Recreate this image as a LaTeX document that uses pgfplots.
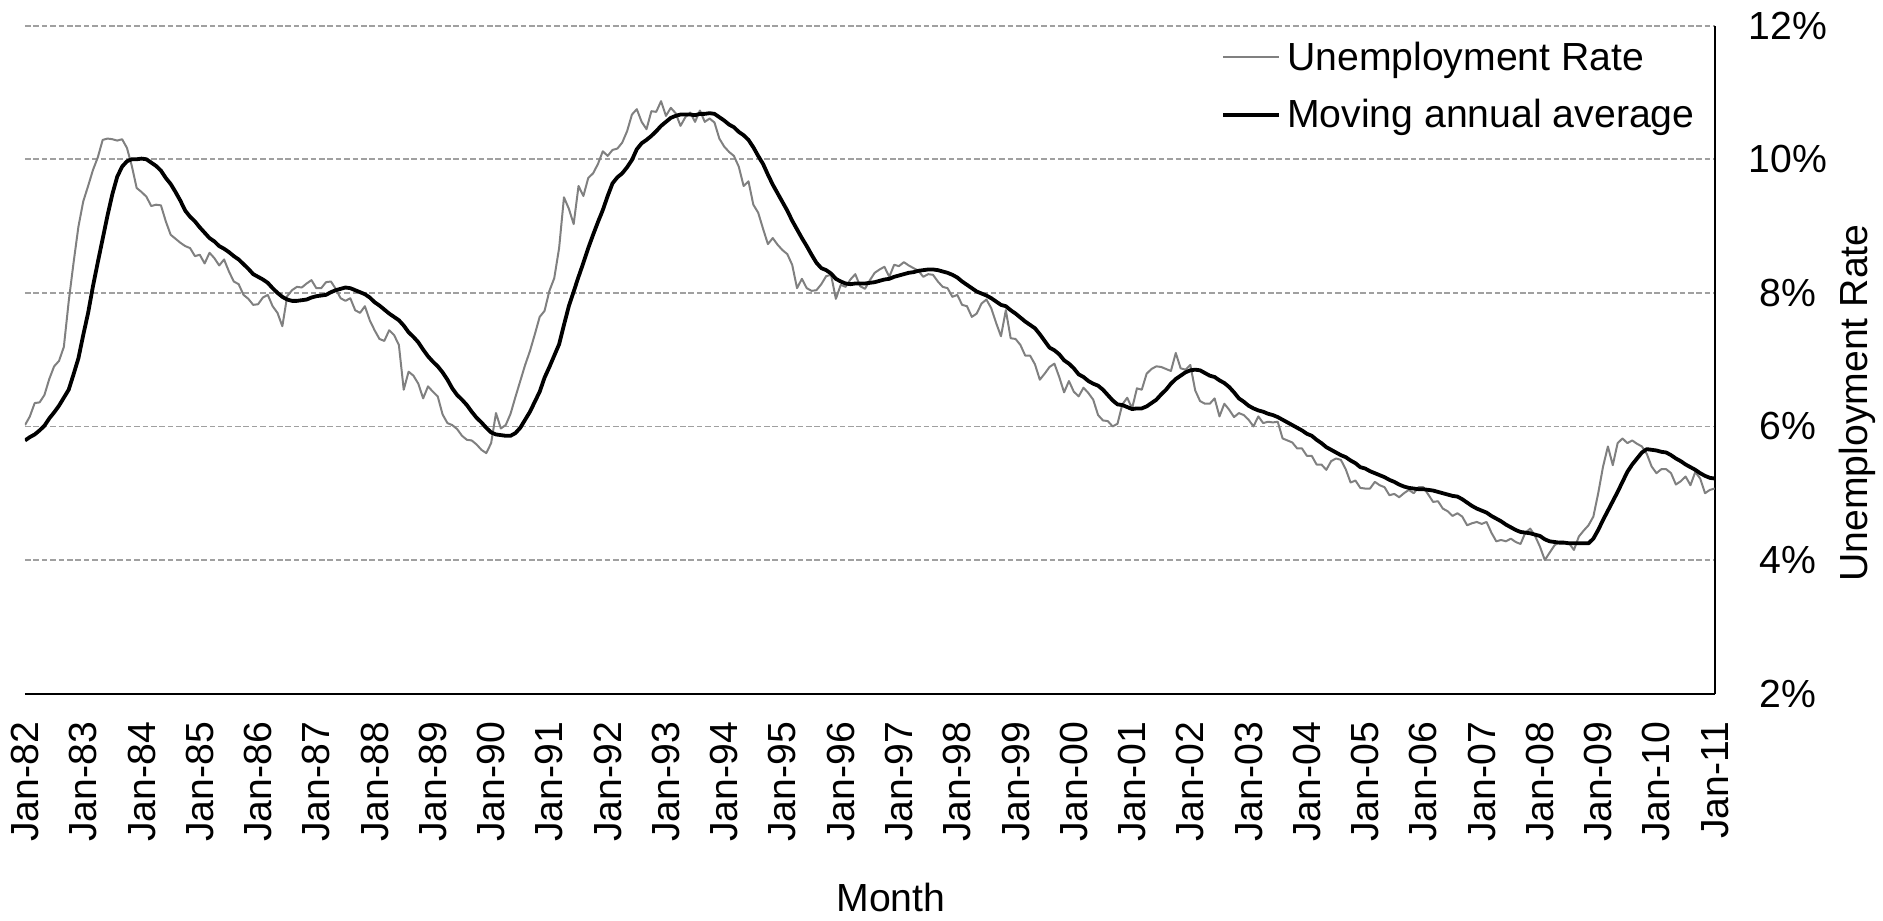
\documentclass[border=0pt]{standalone}
\usepackage{fontspec}
\setmainfont{Liberation Sans}
\usepackage{pgfplots}
\usepackage{pgfplotstable}
\pgfplotsset{compat=1.18}
\usetikzlibrary{calc}
\definecolor{gridc}{RGB}{160,160,160}
\definecolor{urc}{RGB}{128,128,128}
\pgfplotstableread{
m ur ma
0 6.02 5.79
1 6.15 5.84
2 6.35 5.88
3 6.36 5.94
4 6.47 6.01
5 6.71 6.12
6 6.90 6.21
7 6.98 6.31
8 7.19 6.43
9 7.87 6.55
10 8.45 6.78
11 8.99 7.02
12 9.37 7.37
13 9.60 7.70
14 9.84 8.10
15 10.03 8.46
16 10.29 8.81
17 10.31 9.16
18 10.30 9.48
19 10.28 9.74
20 10.30 9.89
21 10.17 9.97
22 9.90 10.00
23 9.57 10.00
24 9.51 10.01
25 9.44 10.00
26 9.30 9.95
27 9.32 9.90
28 9.31 9.83
29 9.07 9.72
30 8.87 9.63
31 8.81 9.51
32 8.75 9.38
33 8.70 9.23
34 8.67 9.14
35 8.55 9.07
36 8.57 8.98
37 8.44 8.90
38 8.60 8.82
39 8.52 8.77
40 8.41 8.70
41 8.50 8.66
42 8.32 8.61
43 8.17 8.55
44 8.13 8.50
45 7.97 8.43
46 7.91 8.36
47 7.82 8.28
48 7.83 8.24
49 7.93 8.20
50 7.97 8.15
51 7.80 8.07
52 7.70 8.00
53 7.50 7.94
54 7.95 7.90
55 8.04 7.88
56 8.09 7.88
57 8.08 7.89
58 8.14 7.90
59 8.19 7.93
60 8.07 7.95
61 8.07 7.96
62 8.16 7.97
63 8.17 8.01
64 8.06 8.04
65 7.92 8.06
66 7.88 8.08
67 7.92 8.07
68 7.74 8.04
69 7.70 8.01
70 7.80 7.98
71 7.59 7.93
72 7.44 7.86
73 7.31 7.81
74 7.28 7.75
75 7.44 7.69
76 7.37 7.64
77 7.22 7.59
78 6.55 7.51
79 6.82 7.41
80 6.76 7.34
81 6.64 7.26
82 6.42 7.15
83 6.60 7.05
84 6.52 6.97
85 6.45 6.90
86 6.18 6.81
87 6.05 6.70
88 6.02 6.57
89 5.96 6.47
90 5.86 6.40
91 5.80 6.32
92 5.79 6.22
93 5.73 6.13
94 5.65 6.06
95 5.60 5.98
96 5.75 5.91
97 6.20 5.88
98 5.97 5.87
99 6.02 5.86
100 6.19 5.86
101 6.44 5.90
102 6.68 5.98
103 6.92 6.10
104 7.13 6.22
105 7.38 6.37
106 7.64 6.52
107 7.73 6.73
108 8.03 6.89
109 8.22 7.06
110 8.67 7.23
111 9.43 7.52
112 9.26 7.80
113 9.03 8.02
114 9.60 8.24
115 9.45 8.45
116 9.72 8.67
117 9.79 8.87
118 9.93 9.06
119 10.12 9.24
120 10.05 9.45
121 10.14 9.64
122 10.16 9.73
123 10.25 9.79
124 10.42 9.88
125 10.67 9.99
126 10.75 10.15
127 10.56 10.24
128 10.45 10.29
129 10.72 10.35
130 10.71 10.42
131 10.87 10.50
132 10.65 10.56
133 10.77 10.62
134 10.69 10.65
135 10.50 10.67
136 10.63 10.67
137 10.70 10.67
138 10.56 10.66
139 10.73 10.68
140 10.56 10.68
141 10.61 10.69
142 10.55 10.68
143 10.31 10.63
144 10.19 10.58
145 10.11 10.52
146 10.05 10.48
147 9.89 10.41
148 9.60 10.36
149 9.67 10.29
150 9.32 10.18
151 9.20 10.05
152 8.96 9.93
153 8.73 9.77
154 8.82 9.62
155 8.72 9.49
156 8.64 9.36
157 8.58 9.23
158 8.42 9.08
159 8.07 8.95
160 8.21 8.82
161 8.07 8.70
162 8.03 8.57
163 8.04 8.45
164 8.13 8.37
165 8.25 8.34
166 8.27 8.29
167 7.91 8.21
168 8.12 8.17
169 8.09 8.14
170 8.20 8.13
171 8.28 8.14
172 8.10 8.14
173 8.06 8.14
174 8.19 8.15
175 8.30 8.16
176 8.35 8.18
177 8.39 8.20
178 8.24 8.21
179 8.42 8.24
180 8.40 8.26
181 8.46 8.28
182 8.41 8.30
183 8.37 8.31
184 8.33 8.33
185 8.24 8.34
186 8.28 8.35
187 8.27 8.35
188 8.17 8.34
189 8.09 8.32
190 8.07 8.30
191 7.94 8.27
192 7.97 8.23
193 7.82 8.17
194 7.80 8.12
195 7.64 8.07
196 7.69 8.02
197 7.84 7.99
198 7.90 7.96
199 7.77 7.92
200 7.55 7.87
201 7.35 7.82
202 7.74 7.80
203 7.32 7.74
204 7.31 7.69
205 7.22 7.63
206 7.06 7.57
207 7.06 7.52
208 6.93 7.47
209 6.70 7.38
210 6.79 7.28
211 6.89 7.18
212 6.94 7.14
213 6.74 7.08
214 6.51 6.99
215 6.68 6.94
216 6.52 6.87
217 6.45 6.78
218 6.58 6.74
219 6.50 6.68
220 6.40 6.64
221 6.17 6.61
222 6.09 6.55
223 6.08 6.47
224 6.00 6.39
225 6.04 6.33
226 6.33 6.32
227 6.43 6.29
228 6.27 6.26
229 6.57 6.27
230 6.55 6.27
231 6.79 6.30
232 6.86 6.35
233 6.90 6.40
234 6.89 6.48
235 6.86 6.55
236 6.83 6.64
237 7.10 6.71
238 6.87 6.76
239 6.85 6.81
240 6.92 6.84
241 6.54 6.85
242 6.38 6.84
243 6.34 6.80
244 6.34 6.76
245 6.42 6.74
246 6.15 6.69
247 6.34 6.65
248 6.25 6.59
249 6.14 6.51
250 6.20 6.42
251 6.17 6.37
252 6.10 6.31
253 6.00 6.27
254 6.15 6.24
255 6.05 6.22
256 6.07 6.19
257 6.06 6.17
258 6.07 6.14
259 5.82 6.10
260 5.79 6.06
261 5.76 6.02
262 5.67 5.98
263 5.67 5.94
264 5.56 5.89
265 5.56 5.86
266 5.43 5.80
267 5.43 5.75
268 5.35 5.69
269 5.48 5.65
270 5.52 5.61
271 5.50 5.57
272 5.36 5.54
273 5.16 5.49
274 5.19 5.45
275 5.08 5.39
276 5.07 5.37
277 5.07 5.33
278 5.17 5.30
279 5.12 5.27
280 5.09 5.24
281 4.97 5.20
282 4.99 5.17
283 4.94 5.13
284 5.00 5.10
285 5.05 5.08
286 5.00 5.07
287 5.09 5.06
288 5.09 5.06
289 4.98 5.05
290 4.87 5.04
291 4.88 5.02
292 4.77 5.00
293 4.73 4.98
294 4.66 4.96
295 4.70 4.95
296 4.65 4.91
297 4.52 4.86
298 4.55 4.81
299 4.57 4.77
300 4.54 4.74
301 4.57 4.71
302 4.41 4.66
303 4.28 4.62
304 4.30 4.58
305 4.28 4.53
306 4.32 4.49
307 4.27 4.45
308 4.24 4.42
309 4.41 4.41
310 4.47 4.40
311 4.36 4.38
312 4.20 4.36
313 4.00 4.31
314 4.11 4.28
315 4.22 4.27
316 4.27 4.26
317 4.27 4.26
318 4.25 4.25
319 4.15 4.25
320 4.35 4.25
321 4.44 4.25
322 4.52 4.25
323 4.65 4.32
324 5.00 4.45
325 5.40 4.60
326 5.70 4.74
327 5.42 4.88
328 5.75 5.02
329 5.82 5.17
330 5.75 5.32
331 5.79 5.43
332 5.74 5.52
333 5.70 5.61
334 5.59 5.66
335 5.40 5.65
336 5.30 5.64
337 5.36 5.62
338 5.36 5.61
339 5.30 5.57
340 5.13 5.52
341 5.18 5.48
342 5.25 5.43
343 5.12 5.39
344 5.32 5.35
345 5.22 5.30
346 5.00 5.26
347 5.05 5.23
348 5.07 5.22
}\data

\begin{document}
\begin{tikzpicture}[font=\fontsize{19.6}{23.5}\selectfont]
\begin{axis}[
  name=ax,
  at={(0,0)}, anchor=south west,
  scale only axis, width=845pt, height=334pt,
  xmin=0, xmax=348, ymin=2, ymax=12,
  axis x line*=bottom, axis y line*=right,
  axis line style={black, line width=1pt},
  xtick={0,12,...,348},
  xticklabels={Jan-82,Jan-83,Jan-84,Jan-85,Jan-86,Jan-87,Jan-88,Jan-89,Jan-90,Jan-91,Jan-92,Jan-93,Jan-94,Jan-95,Jan-96,Jan-97,Jan-98,Jan-99,Jan-00,Jan-01,Jan-02,Jan-03,Jan-04,Jan-05,Jan-06,Jan-07,Jan-08,Jan-09,Jan-10,Jan-11},
  ytick={2,4,6,8,10,12},
  yticklabels={2\%,4\%,6\%,8\%,10\%,12\%},
  major tick length=0pt,
  ymajorgrids,
  grid style={gridc, line width=0.85pt, dash pattern=on 2.8pt off 1.4pt},
  xticklabel style={rotate=90, anchor=east, inner xsep=14pt, inner ysep=0pt},
  yticklabel style={anchor=center, xshift=36.6pt},
  xlabel={Month},
  ylabel={Unemployment Rate},
  xlabel style={at={(axis description cs:0.5124,-0.306)}, anchor=center},
  ylabel style={at={(axis description cs:1.0846,0.435)}, anchor=center},
  legend style={at={(axis description cs:0.708,0.976)}, anchor=north west,
    draw=none, fill=none, inner sep=0pt, outer sep=0pt, row sep=13pt,
    nodes={inner sep=0pt, anchor=west},
    /tikz/every odd column/.style={column sep=3pt}},
  legend cell align=left,
  legend image code/.code={\draw[#1] (0pt,0pt) -- (28pt,0pt);},
]
\addplot[urc, line width=1pt, mark=none, line join=round] table[x=m, y=ur] {\data};
\addlegendentry{Unemployment Rate}
\addplot[black, line width=1.9pt, mark=none, line join=round] table[x=m, y=ma] {\data};
\addlegendentry{Moving annual average}
\end{axis}
\pgfresetboundingbox
\path[use as bounding box] ($(ax.south west)+(-12.5pt,-113.7pt)$) rectangle ($(ax.north east)+(84.15pt,12.85pt)$);
\end{tikzpicture}
\end{document}
